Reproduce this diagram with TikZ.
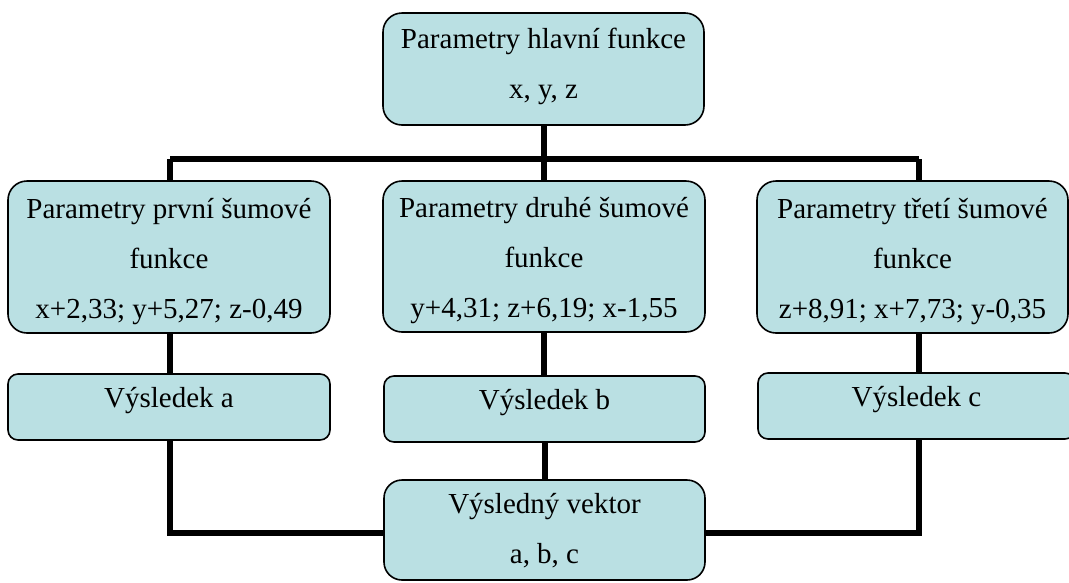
\documentclass[tikz,border=0pt]{standalone}
\usepackage{fontspec}
\setmainfont{Liberation Serif}
\usetikzlibrary{backgrounds,calc}
\definecolor{boxfill}{RGB}{186,224,227}
\tikzset{
  box/.style={draw=black, line width=1.6pt, fill=boxfill, rounded corners=19pt,
    inner sep=0pt, align=center, font=\fontsize{29}{50}\selectfont},
  resbox/.style={box, rounded corners=10pt, text height=20pt, text depth=20pt},
  conn/.style={draw=black, line width=6pt}
}
\begin{document}
\begin{tikzpicture}[x=1pt,y=-1pt]
\useasboundingbox (0,0) rectangle (1069,582);
\node[box, minimum width=321pt, minimum height=112pt, text height=64pt, text depth=6pt] (top) at (543.5,69)
  {Parametry hlavní funkce\\x, y, z};
\node[box, minimum width=322pt, minimum height=152pt, text height=128pt, text depth=6pt] (p1) at (169,257)
  {Parametry první šumové\\funkce\\x+2,33; y+5,27; z-0,49};
\node[box, minimum width=322pt, minimum height=151pt, text height=128pt, text depth=6pt] (p2) at (544,256.5)
  {Parametry druhé šumové\\funkce\\y+4,31; z+6,19; x-1,55};
\node[box, minimum width=311pt, minimum height=152pt, text height=128pt, text depth=6pt] (p3) at (912.5,257)
  {Parametry třetí šumové\\funkce\\z+8,91; x+7,73; y-0,35};
\node[resbox, minimum width=322pt, minimum height=66pt] (r1) at (169,407) {Výsledek a};
\node[resbox, minimum width=321pt, minimum height=66pt] (r2) at (544.5,409) {Výsledek b};
\node[resbox, minimum width=317pt, minimum height=66pt] (r3) at (916.5,406) {Výsledek c};
\node[box, rounded corners=18pt, minimum width=321pt, minimum height=100pt, text height=72pt, text depth=6pt] (out) at (544.5,530)
  {Výsledný vektor\\a, b, c};
\coordinate (barL) at (170,159);
\coordinate (barR) at (919,159);
\begin{scope}[on background layer]
  \draw[conn] (barL) -- (barR);
  \draw[conn] (top.south) -- (top.south |- barL);
  \draw[conn] (barL) -- (barL |- p1.north);
  \draw[conn] (p2.north |- barL) -- (p2.north);
  \draw[conn] (barR) -- (barR |- p3.north);
  \draw[conn] (barL |- p1.south) -- (barL |- r1.north);
  \draw[conn] (p2.south) -- (p2.south |- r2.north);
  \draw[conn] (barR |- p3.south) -- (barR |- r3.north);
  \draw[conn] (barL |- r1.south) |- ($(out.west)+(0,3)$);
  \draw[conn] (r2.south) -- (r2.south |- out.north);
  \draw[conn] (barR |- r3.south) |- ($(out.east)+(0,3)$);
\end{scope}
\end{tikzpicture}
\end{document}
